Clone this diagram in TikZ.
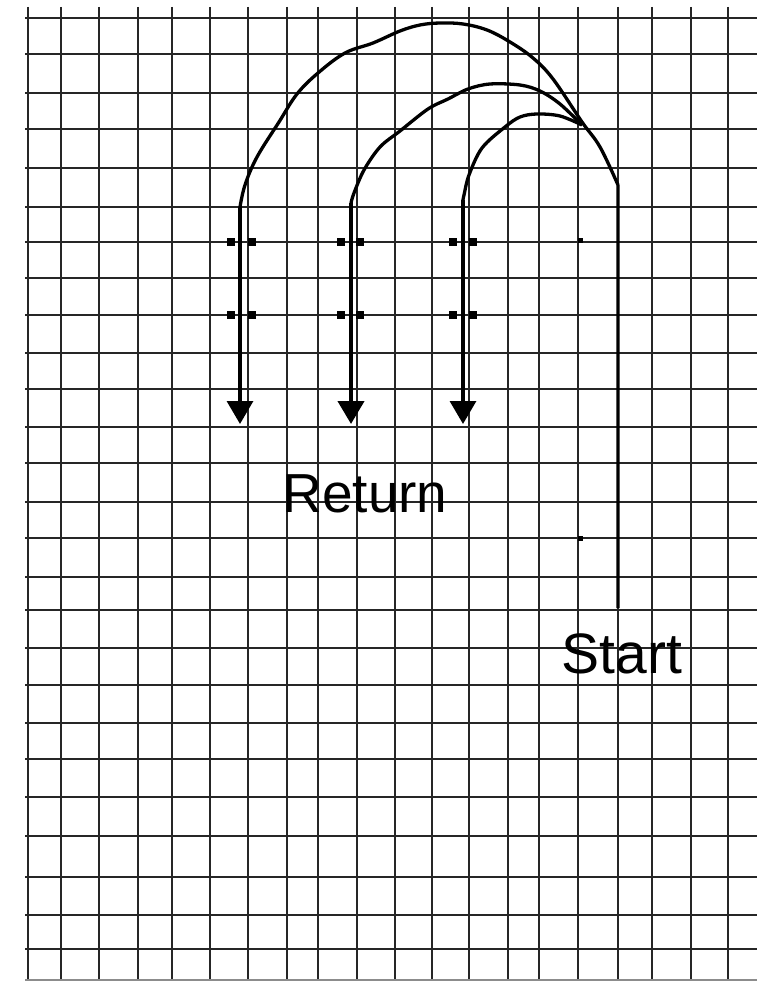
\documentclass[tikz,border=0pt]{standalone}
\usepackage{fontspec}
\setmainfont{Liberation Sans}
\usetikzlibrary{arrows.meta}
\tikzset{
  gridline/.style={line width=2.9pt, black!85},
  pathline/.style={line width=3.3pt, black, line join=round},
  tip/.style={-{Triangle[width=26pt,length=23pt]}},
  dotmark/.style={fill=black, inner sep=0pt, minimum size=7.5pt, rectangle},
  smalldot/.style={fill=black, inner sep=0pt, minimum size=5pt, rectangle},
  lbl/.style={anchor=base, inner sep=0pt}
}
\begin{document}
\begin{tikzpicture}[x=1pt,y=-1pt]
\useasboundingbox (0,0) rectangle (757,981);
\fill[white] (0,0) rectangle (757,981);
% grid
\foreach \x in {28,61,99,138,172,210,248,287,318,357,395,432,469,508,539,578,618,652,691,728}
  \draw[gridline] (\x,7) -- (\x,981);
\foreach \y in {18,54,93,129,168,207,242,278,315,353,389,427,463,502,538,577,610,648,685,723,759,797,836,877,915,949}
  \draw[gridline] (25,\y) -- (757,\y);
\draw[line width=1.8pt, black!45] (25,980) -- (757,980);
% key points
\coordinate (S) at (618,608);
\coordinate (K) at (618,185);
\coordinate (M) at (582,125);
\coordinate (T1) at (240,207);
\coordinate (T2) at (351,203);
\coordinate (T3) at (463,200);
\coordinate (A1) at (240,424);
\coordinate (A2) at (351,424);
\coordinate (A3) at (463,424);
% outer arc from start
\draw[pathline] (S) -- (K) plot[smooth, tension=0.6] coordinates {(618,185) (600,147) (582,122) (553,79) (533,58) (510,42) (487,30) (463,24) (440,23) (420,25) (400,31) (373,43) (345,53) (318,73) (297,94) (279,122) (257,157) (245,185) (240,207)};
\draw[pathline, tip] (T1) -- (A1);
% middle arc
\draw[pathline] plot[smooth, tension=0.55] coordinates {(582,125) (560,104) (540,91) (520,85) (490,84) (468,89) (448,99) (428,109) (400,131) (380,147) (364,170) (354,193) (351,203)};
\draw[pathline, line width=4.2pt, tip] (T2) -- (A2);
% inner arc
\draw[pathline] plot[smooth, tension=0.55] coordinates {(582,125) (560,116) (537,114) (520,117) (505,127) (482,148) (469,175) (464,195) (463,200)};
\draw[pathline, tip] (T3) -- (A3);
% dots
\foreach \px/\py [count=\i] in {231/242,252/242,231/315,252/315,341/242,360/242,341/315,360/315,453/242,473/242,453/315,473/315}
  \node[dotmark] (d\i) at (\px,\py) {};
\node[smalldot] (e1) at (580,241) {};
\node[smalldot] (e2) at (580,538) {};
% labels
\node[lbl, font=\fontsize{55}{60}\selectfont] (ret) at (365,512) {Return};
\node[lbl, font=\fontsize{57}{62}\selectfont] (st) at (622,673) {Start};
\end{tikzpicture}
\end{document}
